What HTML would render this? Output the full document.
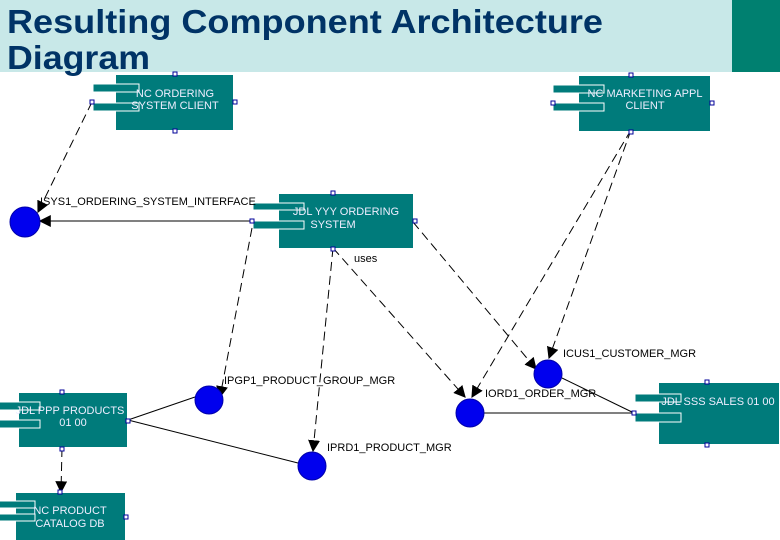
<!DOCTYPE html>
<html><head><meta charset="utf-8"><style>
html,body{margin:0;padding:0;background:#fff}
svg{display:block}
text{font-family:"Liberation Sans",sans-serif}
</style></head><body>
<svg width="780" height="540" viewBox="0 0 780 540" xmlns="http://www.w3.org/2000/svg">
<defs>
<marker id="a" viewBox="0 0 10 10" refX="9" refY="5" markerWidth="12" markerHeight="12" markerUnits="userSpaceOnUse" orient="auto"><path d="M0,0 L10,5 L0,10 z" fill="#000"/></marker>
</defs>
<rect x="0" y="0" width="732" height="72" fill="#c8e8e8"/>
<rect x="732" y="0" width="48" height="72" fill="#008070"/>
<text x="7" y="33" font-size="33" font-weight="bold" fill="#003366" textLength="596" lengthAdjust="spacingAndGlyphs">Resulting Component Architecture</text>
<text x="7" y="69" font-size="33" font-weight="bold" fill="#003366" textLength="143" lengthAdjust="spacingAndGlyphs">Diagram</text>

<g stroke="#000" stroke-width="1" fill="none">
<!-- dashed -->
<g stroke-dasharray="9,5">
<line x1="92" y1="102" x2="38" y2="212" marker-end="url(#a)"/>
<line x1="252" y1="228" x2="220" y2="397" marker-end="url(#a)"/>
<line x1="333" y1="248" x2="313" y2="451" marker-end="url(#a)"/>
<line x1="333" y1="248" x2="465" y2="397" marker-end="url(#a)"/>
<line x1="413" y1="222" x2="536" y2="369" marker-end="url(#a)"/>
<line x1="631" y1="130" x2="549" y2="358" marker-end="url(#a)"/>
<line x1="631" y1="130" x2="472" y2="397" marker-end="url(#a)"/>
<line x1="62" y1="448" x2="61" y2="492" marker-end="url(#a)"/>
</g>
<line x1="252" y1="221" x2="40" y2="221" marker-end="url(#a)"/>
<line x1="128" y1="420" x2="195" y2="397"/>
<line x1="128" y1="420" x2="298" y2="463"/>
<line x1="634" y1="413" x2="484" y2="413"/>
<line x1="634" y1="413" x2="562" y2="378"/>
</g>

<g fill="#007b7b" stroke="#fff" stroke-width="1">
<rect x="116" y="75" width="117" height="55" stroke="none"/>
<rect x="93" y="84" width="46" height="8"/><rect x="93" y="103" width="46" height="8"/>
<rect x="579" y="76" width="131" height="55" stroke="none"/>
<rect x="553" y="85" width="51" height="8"/><rect x="553" y="103" width="51" height="8"/>
<rect x="279" y="194" width="134" height="54" stroke="none"/>
<rect x="253" y="203" width="51" height="7"/><rect x="253" y="221" width="51" height="8"/>
<rect x="19" y="393" width="108" height="54" stroke="none"/>
<rect x="-5" y="402" width="45" height="8"/><rect x="-5" y="420" width="45" height="8"/>
<rect x="16" y="493" width="109" height="50" stroke="none"/>
<rect x="-5" y="501" width="40" height="7"/><rect x="-5" y="514" width="40" height="7"/>
<rect x="659" y="383" width="120" height="61" stroke="none"/>
<rect x="635" y="394" width="46" height="8"/><rect x="635" y="413" width="46" height="9"/>
</g>

<g fill="#eef" font-size="11" text-anchor="middle">
<text x="175" y="97">NC ORDERING</text><text x="175" y="109">SYSTEM CLIENT</text>
<text x="645" y="97">NC MARKETING APPL</text><text x="645" y="109">CLIENT</text>
<text x="346" y="215">JDL YYY ORDERING</text><text x="333" y="228">SYSTEM</text>
<text x="70" y="414">JDL PPP PRODUCTS</text><text x="73" y="426">01 00</text>
<text x="70" y="514">NC PRODUCT</text><text x="70" y="527">CATALOG DB</text>
<text x="718" y="405">JDL SSS SALES 01 00</text>
</g>

<g fill="#0000ee" stroke="#0000aa" stroke-width="1">
<circle cx="25" cy="222" r="15"/>
<circle cx="209" cy="400" r="14"/>
<circle cx="312" cy="466" r="14"/>
<circle cx="470" cy="413" r="14"/>
<circle cx="548" cy="374" r="14"/>
</g>

<g fill="#000" font-size="11">
<text x="40" y="205">ISYS1_ORDERING_SYSTEM_INTERFACE</text>
<text x="354" y="262">uses</text>
<text x="224" y="384">IPGP1_PRODUCT_GROUP_MGR</text>
<text x="327" y="451">IPRD1_PRODUCT_MGR</text>
<text x="485" y="397">IORD1_ORDER_MGR</text>
<text x="563" y="357">ICUS1_CUSTOMER_MGR</text>
</g>

<g fill="#fff" stroke="#000099" stroke-width="1">
<rect x="90" y="100" width="4" height="4"/><rect x="173" y="72" width="4" height="4"/><rect x="233" y="100" width="4" height="4"/><rect x="173" y="129" width="4" height="4"/>
<rect x="629" y="73" width="4" height="4"/><rect x="551" y="101" width="4" height="4"/><rect x="710" y="101" width="4" height="4"/><rect x="629" y="130" width="4" height="4"/>
<rect x="331" y="191" width="4" height="4"/><rect x="250" y="219" width="4" height="4"/><rect x="413" y="219" width="4" height="4"/><rect x="331" y="247" width="4" height="4"/>
<rect x="60" y="390" width="4" height="4"/><rect x="126" y="419" width="4" height="4"/><rect x="60" y="447" width="4" height="4"/>
<rect x="58" y="490" width="4" height="4"/><rect x="124" y="515" width="4" height="4"/>
<rect x="705" y="380" width="4" height="4"/><rect x="632" y="411" width="4" height="4"/><rect x="705" y="443" width="4" height="4"/>
</g>
</svg>
</body></html>
